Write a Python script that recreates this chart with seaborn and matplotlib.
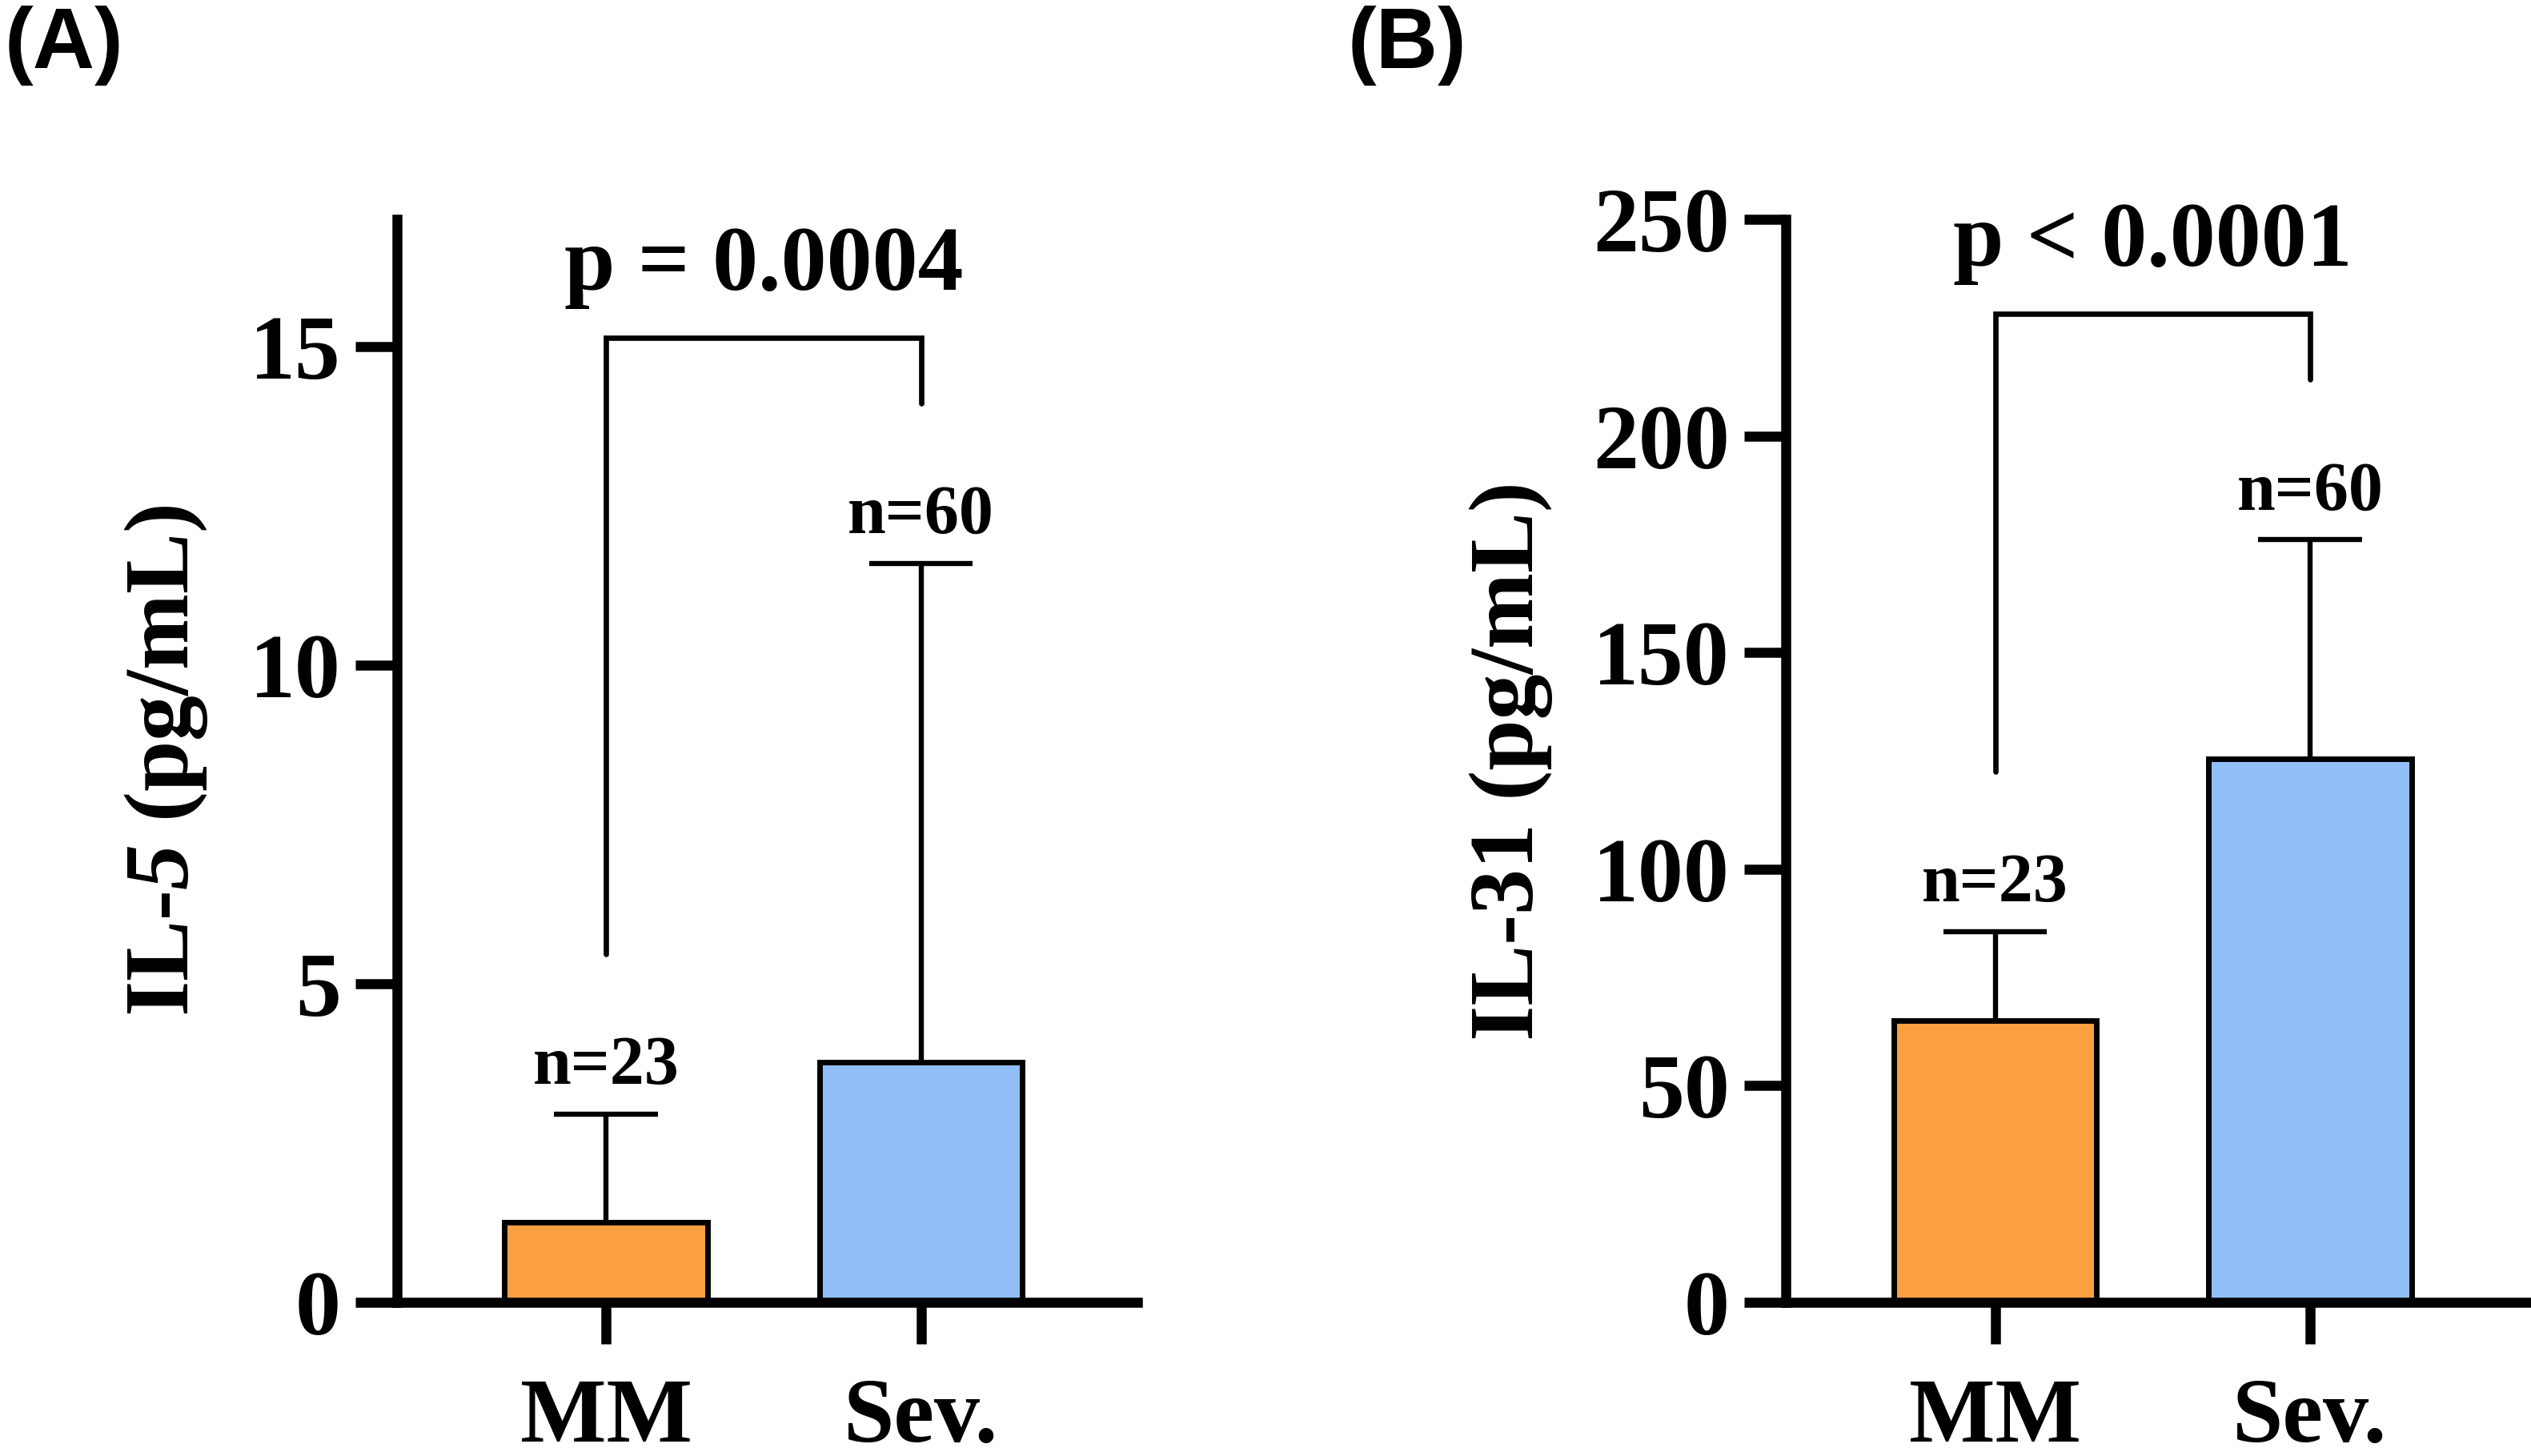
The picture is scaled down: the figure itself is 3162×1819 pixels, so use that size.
import pandas as pd
import seaborn as sns
import matplotlib.pyplot as plt

# values
groups = ["MM", "Sev."]
n_counts = [23, 60]
bar_colors = ["#FBA040", "#92BEF8"]

il5_mean = [1.26, 3.77]
il5_sd = [1.69, 7.83]
il5_p = "p = 0.0004"
il5_ticks = [0, 5, 10, 15]

il31_mean = [65.0, 125.5]
il31_sd = [20.6, 50.5]
il31_p = "p < 0.0001"
il31_ticks = [0, 50, 100, 150, 200, 250]

sns.set_style("ticks")
plt.rcParams["font.family"] = ["Liberation Serif", "DejaVu Serif"]
plt.rcParams["font.weight"] = "bold"
plt.rcParams["axes.labelweight"] = "bold"
plt.rcParams["text.color"] = "black"
plt.rcParams["axes.labelcolor"] = "black"
plt.rcParams["xtick.color"] = "black"
plt.rcParams["ytick.color"] = "black"
plt.rcParams["mathtext.fontset"] = "custom"
plt.rcParams["mathtext.bfit"] = "Liberation Serif:bold:italic"
plt.rcParams["mathtext.bf"] = "Liberation Serif:bold"
plt.rcParams["mathtext.rm"] = "Liberation Serif:bold"

fig = plt.figure(figsize=(15.81, 9.095), dpi=200)

W, H = 3162, 1819
ax_bottom = 1 - 1627 / H
ax_h = (1627 - 274) / H
ax_w = 925 / W


def px2data(ax, px):
    lo, hi = ax.get_ylim()
    return px * (hi - lo) / ax.get_window_extent().height


def panel(ax, mean, sd, ymax, ticks, ylabel, ptext):
    df = pd.DataFrame({"group": groups, "value": mean})
    sns.barplot(data=df, x="group", y="value", hue="group", palette=bar_colors,
                width=0.645, edgecolor="black", linewidth=2.5, legend=False,
                saturation=1, ax=ax, zorder=2)
    ax.set_xlim(-0.6646, 1.686)
    ax.set_ylim(0, ymax)
    ax.set_yticks(ticks)
    ax.set_xlabel("")
    ax.set_ylabel(ylabel, fontsize=41, labelpad=18, color="black")
    for s in ["top", "right"]:
        ax.spines[s].set_visible(False)
    for s in ["left", "bottom"]:
        ax.spines[s].set_linewidth(4.5)
        ax.spines[s].set_color("black")
    ax.tick_params(axis="both", length=18.7, width=4.5, color="black",
                   labelsize=41, labelcolor="black")
    ax.tick_params(axis="y", pad=6.5)
    ax.tick_params(axis="x", pad=15)

    tops = [m + s for m, s in zip(mean, sd)]
    xs = list(range(len(groups)))
    # error bars (upper SD only)
    ax.vlines(xs, mean, tops, color="black", lw=2.3, zorder=1)
    ax.hlines(tops, [x - 0.165 for x in xs], [x + 0.165 for x in xs],
              color="black", lw=2.3, zorder=1)
    for x, t, n in zip(xs, tops, n_counts):
        ax.annotate(f"n={n}", (x, t), xytext=(0, 13.7), textcoords="offset points",
                    ha="center", va="baseline", fontsize=31, color="black")

    # significance bracket
    legs = [t + px2data(ax, 200) for t in tops]
    ytop = max(legs) + px2data(ax, 82)
    ax.plot([0, 0, 1, 1], [legs[0], ytop, ytop, legs[1]], color="black",
            lw=2.4, solid_joinstyle="miter", clip_on=False)
    ax.annotate(ptext, (0.5, ytop), xytext=(0, 21.6), textcoords="offset points",
                ha="center", va="baseline", fontsize=41, color="black",
                annotation_clip=False)


axA = fig.add_axes([495.5 / W, ax_bottom, ax_w, ax_h])
panel(axA, il5_mean, il5_sd, 17, il5_ticks, r"IL-$\mathbfit{5}$ (pg/mL)", il5_p)

axB = fig.add_axes([2231 / W, ax_bottom, ax_w, ax_h])
panel(axB, il31_mean, il31_sd, 250, il31_ticks, "IL-31 (pg/mL)", il31_p)

fig.text(6 / W, 1 - 7 / H, "(A)", ha="left", va="top", fontsize=38.5,
         family="Liberation Sans", weight="bold", color="black")
fig.text(1684 / W, 1 - 7 / H, "(B)", ha="left", va="top", fontsize=38.5,
         family="Liberation Sans", weight="bold", color="black")

fig.savefig("out.png", dpi=200, facecolor="white")
